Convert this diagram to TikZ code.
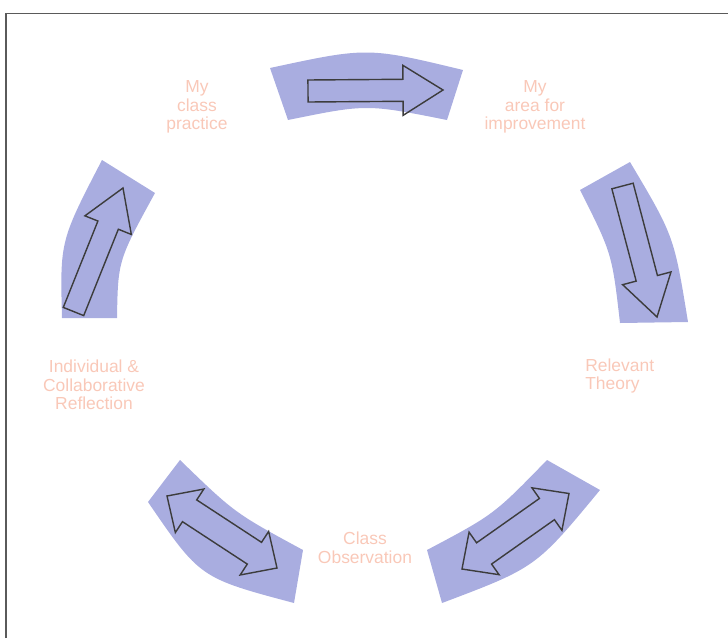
\documentclass[tikz,border=0pt]{standalone}
\usepackage{fontspec}
\setmainfont{Liberation Sans}
\usetikzlibrary{calc}
\definecolor{ringBlue}{HTML}{A9ADE0}
\definecolor{edgeGray}{HTML}{3C3C3C}
\definecolor{labelPeach}{HTML}{F9C8B8}
\definecolor{frameGray}{HTML}{5A5A5A}

% block arrow with one head: tail, tip
\newcommand{\onearrow}[2]{%
  \coordinate (oa_h) at ($(#2)!10mm!(#1)$);
  \draw[blk] ($(#1)!2.75mm!90:(#2)$) -- ($(oa_h)!2.75mm!90:(#2)$)
    -- ($(oa_h)!6.25mm!90:(#2)$) -- (#2) -- ($(oa_h)!6.25mm!-90:(#2)$)
    -- ($(oa_h)!2.75mm!-90:(#2)$) -- ($(#1)!2.75mm!-90:(#2)$) -- cycle;
}
% block arrow with two heads: tip, tip
\newcommand{\twoarrow}[2]{%
  \coordinate (ta_a) at ($(#1)!6.75mm!(#2)$);
  \coordinate (ta_b) at ($(#2)!6.75mm!(#1)$);
  \draw[blk] (#1) -- ($(ta_a)!6.5mm!90:(#2)$) -- ($(ta_a)!3.25mm!90:(#2)$)
    -- ($(ta_b)!3.25mm!-90:(#1)$) -- ($(ta_b)!6.5mm!-90:(#1)$) -- (#2)
    -- ($(ta_b)!6.5mm!90:(#1)$) -- ($(ta_b)!3.25mm!90:(#1)$)
    -- ($(ta_a)!3.25mm!-90:(#2)$) -- ($(ta_a)!6.5mm!-90:(#2)$) -- cycle;
}

\begin{document}
\begin{tikzpicture}[
  x=0.025cm, y=-0.025cm,
  segment/.style={fill=ringBlue},
  blk/.style={draw=edgeGray, line width=1pt, line join=miter},
  cyclelbl/.style={text=labelPeach, align=center, inner sep=0pt,
              font=\fontsize{12.4}{13.2}\selectfont},
]
  \useasboundingbox (0,0) rectangle (728,638);
  \draw[frameGray, line width=1.4pt] (6,638) -- (6,13.5) -- (728,13.5);

  % ring segments
  \fill[segment] (270,68) .. controls (367.5,47) .. (463,70)
    -- (447,120) .. controls (366.5,104) .. (288,120) -- cycle;
  \fill[segment] (580,190) -- (630,162) .. controls (674,236) .. (688,322)
    -- (620,323) .. controls (612,253.5) .. (580,190) -- cycle;
  \fill[segment] (427,550) -- (442,603) .. controls (536,567.5) .. (600,490)
    -- (547,460) .. controls (494,514.5) .. (427,550) -- cycle;
  \fill[segment] (148,502) .. controls (200,578) .. (294,603)
    -- (303,550) .. controls (234.7,513) .. (180,460) -- cycle;
  \fill[segment] (62,318) .. controls (60,241) .. (102,160)
    -- (155,193) .. controls (118,260.5) .. (117,318) -- cycle;

  % arrow ends
  \coordinate (top_tail)  at (308,91);
  \coordinate (top_tip)   at (443,90);
  \coordinate (rgt_tail)  at (622.5,186);
  \coordinate (rgt_tip)   at (657,317);
  \coordinate (brt_a)     at (462,569);
  \coordinate (brt_b)     at (569,493.5);
  \coordinate (blt_a)     at (167,496);
  \coordinate (blt_b)     at (277,568);
  \coordinate (lft_tail)  at (73.5,311.5);
  \coordinate (lft_tip)   at (123,188);

  \onearrow{top_tail}{top_tip}
  \onearrow{rgt_tail}{rgt_tip}
  \twoarrow{brt_a}{brt_b}
  \twoarrow{blt_a}{blt_b}
  \onearrow{lft_tail}{lft_tip}

  % labels
  \node[cyclelbl] (practice) at (197,107) {My\\class\\practice};
  \node[cyclelbl] (improve)  at (535,107) {My\\area for\\improvement};
  \node[cyclelbl, align=left, anchor=west] (theory) at (585,376) {Relevant\\Theory};
  \node[cyclelbl] (observe)  at (365,548) {Class\\Observation};
  \node[cyclelbl] (reflect)  at (94,385)  {Individual \&\\Collaborative\\Reflection};
\end{tikzpicture}
\end{document}
